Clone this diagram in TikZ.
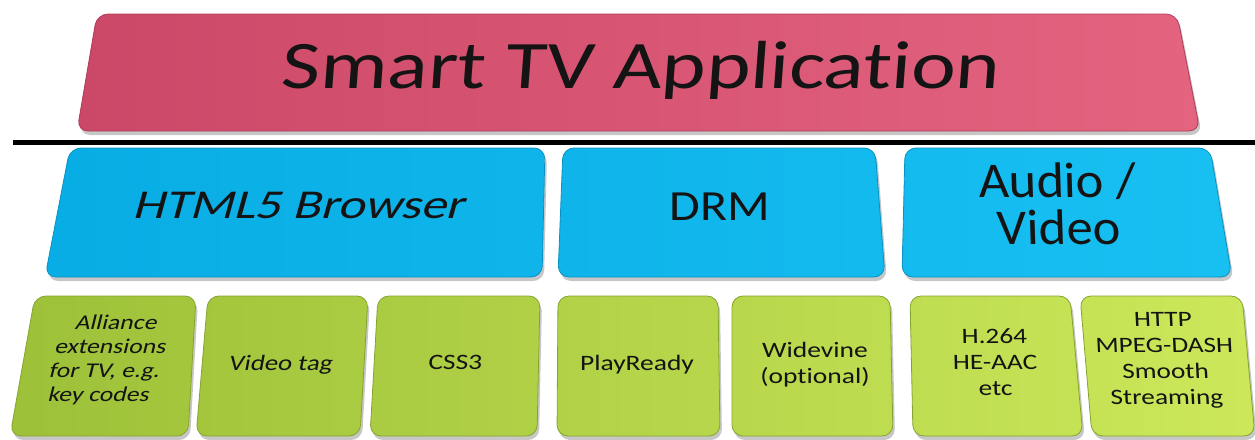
\documentclass[tikz,border=0pt]{standalone}
\usepackage{fontspec}
\setmainfont{Carlito}[Ligatures=NoCommon]
\definecolor{pinkL}{RGB}{204,72,104}
\definecolor{pinkR}{RGB}{228,100,128}
\definecolor{blueL}{RGB}{8,172,228}
\definecolor{blueR}{RGB}{24,192,242}
\definecolor{greenL}{RGB}{156,192,56}
\definecolor{greenR}{RGB}{204,232,90}
\newcommand\greenfont{\fontsize{22}{26}\selectfont}
\newcommand\greenfontA{\fontsize{21}{24}\selectfont}
\tikzset{
  boxshadow/.style={fill=black, opacity=0.22},
  boxshape/.style={rounded corners=11pt, line width=0.8pt},
  lbltext/.style={inner sep=0pt, align=center, text=black!92, transform shape},
  sepline/.style={line width=5pt, black},
}
% #1 fill options, #2 TL, #3 TR, #4 BR, #5 BL
\newcommand\tbox[5]{%
  \path[boxshape, boxshadow, shift={(2,4)}] #2 -- #3 -- #4 -- #5 -- cycle;
  \path[boxshape, #1] #2 -- #3 -- #4 -- #5 -- cycle;}
% #1 name, #2 position, #3 xscale, #4 xslant, #5 font, #6 anchor, #7 text
\newcommand\lbl[7]{%
  \begin{scope}[shift={#2}, xscale=#3, xslant=#4]
    \node[lbltext, anchor=#6, font=#5] (#1) at (0,0) {#7};
  \end{scope}}
\begin{document}
\begin{tikzpicture}[x=1pt, y=-1pt]
\useasboundingbox (0,0) rectangle (1255,439);
% top box
\tbox{left color=pinkL, right color=pinkR, draw=pinkL!85!black}{(97,14)}{(1177,14)}{(1200,131)}{(77,131)}
\lbl{app}{(640,88)}{1.24}{0.06}{\fontsize{68}{80}\selectfont}{base}{Smart TV Application}
% separator
\coordinate (lineL) at (13,142);
\coordinate (lineR) at (1255,142);
\draw[sepline] (lineL) -- (lineR);
% blue row
\tbox{left color=blueR!4!blueL, right color=blueR!43!blueL, draw=blueL!85!black}{(70,148)}{(545,148)}{(542,277)}{(45,277)}
\tbox{left color=blueR!44!blueL, right color=blueR!71!blueL, draw=blueL!85!black}{(563,148)}{(875,148)}{(885,277)}{(558,277)}
\tbox{left color=blueR!72!blueL, right color=blueR, draw=blueL!85!black}{(905,148)}{(1210,148)}{(1232,277)}{(902,277)}
\lbl{html}{(298,218)}{1.25}{0.22}{\fontsize{41}{48}\selectfont}{base}{HTML5 Browser}
\lbl{drm}{(720,220)}{1.16}{0}{\fontsize{43}{50}\selectfont}{base}{DRM}
\lbl{av}{(1058,204)}{1.05}{-0.03}{\fontsize{50}{47}\selectfont}{center}{Audio /\\Video}
% green row
\tbox{left color=greenR!1!greenL, right color=greenR!16!greenL, draw=greenL!85!black}{(35,296)}{(196,296)}{(188,436)}{(10,436)}
\tbox{left color=greenR!15!greenL, right color=greenR!29!greenL, draw=greenL!85!black}{(208,296)}{(368,296)}{(360,436)}{(196,436)}
\tbox{left color=greenR!29!greenL, right color=greenR!43!greenL, draw=greenL!85!black}{(378,296)}{(540,296)}{(537,436)}{(370,436)}
\tbox{left color=greenR!44!greenL, right color=greenR!57!greenL, draw=greenL!85!black}{(558,296)}{(718,296)}{(720,436)}{(557,436)}
\tbox{left color=greenR!58!greenL, right color=greenR!71!greenL, draw=greenL!85!black}{(732,296)}{(890,296)}{(893,436)}{(732,436)}
\tbox{left color=greenR!73!greenL, right color=greenR!86!greenL, draw=greenL!85!black}{(910,296)}{(1070,296)}{(1083,436)}{(913,436)}
\tbox{left color=greenR!86!greenL, right color=greenR, draw=greenL!85!black}{(1080,296)}{(1242,296)}{(1255,436)}{(1092,436)}
\lbl{g1}{(108,360)}{1.22}{0.2}{\greenfontA}{center}{Alliance\\extensions\\for TV, e.g.\\key codes}
\lbl{g2}{(280,370)}{1.22}{0.15}{\greenfont}{base}{Video tag}
\lbl{g3}{(455,369)}{1.25}{0.05}{\greenfont}{base}{CSS3}
\lbl{g4}{(637,370)}{1.25}{0}{\greenfont}{base}{PlayReady}
\lbl{g5}{(815,365)}{1.25}{0}{\greenfont}{center}{Widevine\\(optional)}
\lbl{g6}{(995,362)}{1.24}{-0.02}{\greenfont}{center}{H.264\\HE-AAC\\etc}
\lbl{g7}{(1165,360)}{1.24}{-0.04}{\greenfont}{center}{HTTP\\MPEG-DASH\\Smooth\\Streaming}
\end{tikzpicture}
\end{document}
